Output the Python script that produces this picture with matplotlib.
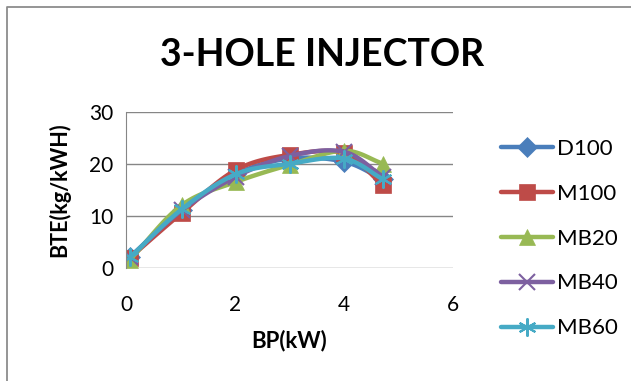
import numpy as np
import matplotlib.pyplot as plt
from matplotlib.lines import Line2D

# BP (kW) and BTE values
bp = [0.07, 1.02, 2.02, 3.01, 4.0, 4.72]
d100 = [2.0, 11.0, 18.0, 21.0, 20.4, 17.0]
m100 = [1.9, 10.5, 18.8, 21.7, 22.0, 15.9]
mb20 = [1.5, 12.0, 16.5, 19.8, 22.5, 20.0]
mb40 = [2.0, 11.0, 17.5, 21.5, 22.3, 17.5]
mb60 = [2.0, 11.2, 18.0, 20.0, 21.0, 17.0]
names = ['D100', 'M100', 'MB20', 'MB40', 'MB60']
colors = ['#4A7EBB', '#BE4B48', '#98B954', '#7D60A0', '#46AAC5']
markers = ['D', 's', '^', 'x', (6, 2, 0)]
sizes = [10, 12, 12, 11, 13]


def smooth(x, y, n=20):
    # Catmull-Rom curve through the points (like Excel's smoothed line)
    x = np.asarray(x, float)
    y = np.asarray(y, float)
    px = np.concatenate([[2 * x[0] - x[1]], x, [2 * x[-1] - x[-2]]])
    py = np.concatenate([[2 * y[0] - y[1]], y, [2 * y[-1] - y[-2]]])
    t = np.linspace(0, 1, n)
    ox, oy = [], []
    for i in range(1, len(px) - 2):
        for p, o in ((px, ox), (py, oy)):
            p0, p1, p2, p3 = p[i - 1], p[i], p[i + 1], p[i + 2]
            o.extend(0.5 * (2 * p1 + (-p0 + p2) * t
                            + (2 * p0 - 5 * p1 + 4 * p2 - p3) * t ** 2
                            + (-p0 + 3 * p1 - 3 * p2 + p3) * t ** 3))
    return ox, oy


plt.rcParams['font.family'] = ['Lato', 'DejaVu Sans']
fig = plt.figure(figsize=(6.31, 3.81), dpi=100)
# chart border (only top and left edges show in the picture)
fig.lines.append(Line2D([0.011, 0.011, 1.0], [0.0, 0.982, 0.982], transform=fig.transFigure,
                        color='#8c8c8c', lw=1.3))
ax = fig.add_axes([0.1997, 0.2974, 0.5177, 0.4094])

for ys, name, c, m, s in zip([d100, m100, mb20, mb40, mb60], names, colors, markers, sizes):
    sx, sy = smooth(bp, ys)
    ax.plot(sx, sy, color=c, lw=3.2, solid_capstyle='round')
    mew = 1.5 if m in ('x', (6, 2, 0)) else 0.5
    ax.plot(bp, ys, linestyle='none', marker=m, color=c, markersize=s, markeredgewidth=mew)
    ax.plot([], [], color=c, lw=3.2, marker=m, markersize=s, markeredgewidth=mew,
            solid_capstyle='round', label=name)

ax.set_xlim(0, 6)
ax.set_ylim(0, 30)
ax.set_xticks([0, 2, 4, 6])
ax.set_yticks([0, 10, 20, 30])
ax.grid(axis='y', color='#868686', lw=1)
ax.set_axisbelow(True)
for side in ['top', 'right', 'bottom']:
    ax.spines[side].set_visible(False)
ax.spines['left'].set_color('#868686')
ax.tick_params(length=0, labelsize=15, pad=9)
ax.tick_params(axis='x', pad=20)

ax.set_xlabel('BP(kW)', fontsize=16, fontweight='bold', labelpad=10)
ax.set_ylabel('BTE(kg/kWH)', fontsize=15.5, fontweight='bold', labelpad=14)
fig.text(0.51, 0.855, '3-HOLE INJECTOR', ha='center', va='center',
         fontsize=27, fontweight='bold')

fig.legend(loc='upper left', bbox_to_anchor=(0.777, 0.665), frameon=False, borderpad=0,
           fontsize=16, handlelength=2.3, labelspacing=1.12, handletextpad=0.2)

fig.savefig('out.png', dpi=100)
